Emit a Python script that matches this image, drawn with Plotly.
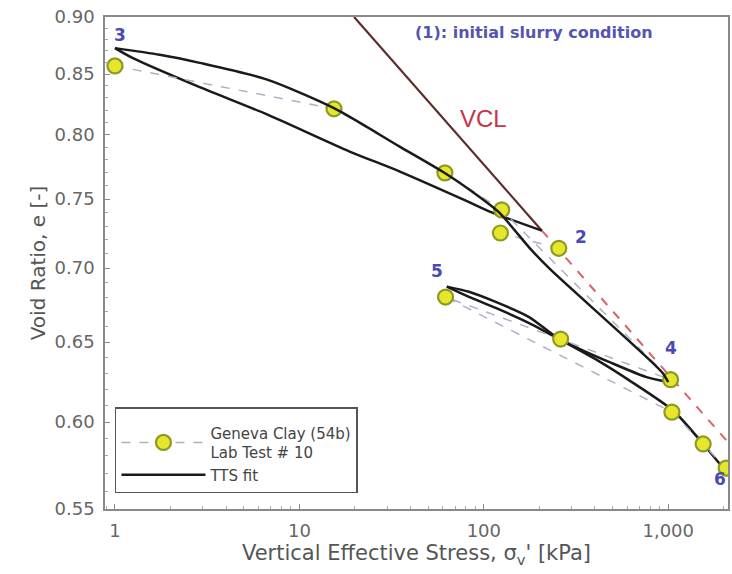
import math
import plotly.graph_objects as go

# ---------------- data ----------------
# lab test points, in test order (None = break in the connecting line)
test_stress = [255, 123, None, 1.0, 15.4, 61.5, 125, 1030, 261, 62, 1047, 1546, 2060]
test_e = [0.714, 0.725, None, 0.857, 0.821, 0.770, 0.742, 0.626, 0.652, 0.680, 0.606, 0.587, 0.573]

# virgin compression line (solid part) and its dashed extension
vcl_stress = [19.8, 206.5]
vcl_e = [0.900, 0.7267]
vcl_ext_stress = [206.5, 2150]
vcl_ext_e = [0.7267, 0.587]

# TTS fit: unloading 2 -> 3
unl1_stress = [206.5, 110.5, 79.9, 34.8, 18.6, 6.63, 2.88, 1.251, 1.0]
unl1_e = [0.7267, 0.7401, 0.7489, 0.7712, 0.7868, 0.8166, 0.8390, 0.8637, 0.8724]

# TTS fit: reloading 3 -> 4
rel1_stress = [1.0, 1.75, 2.88, 6.63, 15.4, 34.8, 61.7, 94.4, 121, 182, 234, 920, 1000]
rel1_e = [0.8724, 0.8666, 0.8596, 0.8455, 0.8215, 0.7907, 0.7697, 0.7518, 0.7401, 0.7125, 0.698, 0.631, 0.6245]

# TTS fit: unloading 4 -> 5
unl2_stress = [1000, 755, 492, 299, 239, 176, 116, 83, 63]
unl2_e = [0.6245, 0.6278, 0.6366, 0.6481, 0.6546, 0.6665, 0.6767, 0.6836, 0.6871]

# TTS fit: reloading 5 -> 6
rel2_stress = [63, 83, 116, 176, 261, 418, 609, 1069, 1546, 1950]
rel2_e = [0.6871, 0.6801, 0.6726, 0.6625, 0.6514, 0.6379, 0.6259, 0.6067, 0.587, 0.574]

x_tick_vals = [1, 10, 100, 1000]
x_tick_text = ["1", "10", "100", "1,000"]
y_tick_vals = [0.55, 0.60, 0.65, 0.70, 0.75, 0.80, 0.85, 0.90]
y_tick_text = ["0.55", "0.60", "0.65", "0.70", "0.75", "0.80", "0.85", "0.90"]
y_minor_vals = [round(0.55 + 0.01 * i, 2) for i in range(36)]

point_labels = ["3", "2", "5", "4", "6"]
point_label_stress = [1.06, 335, 55.6, 1038, 1911]
point_label_e = [0.884, 0.722, 0.698, 0.646, 0.567]

# ---------------- figure ----------------
fig = go.Figure()

BLACK = "#1a1a1a"
SPL = dict(shape="spline", smoothing=0.7)

fig.add_trace(go.Scatter(x=vcl_stress, y=vcl_e, mode="lines",
                         line=dict(color="#5e2c2c", width=2.2), showlegend=False))
fig.add_trace(go.Scatter(x=vcl_ext_stress, y=vcl_ext_e, mode="lines",
                         line=dict(color="#d9636b", width=2, dash="dash"), showlegend=False))

fig.add_trace(go.Scatter(x=unl1_stress, y=unl1_e, mode="lines",
                         line=dict(color=BLACK, width=2.5, **SPL), showlegend=False))
fig.add_trace(go.Scatter(x=unl2_stress, y=unl2_e, mode="lines",
                         line=dict(color=BLACK, width=2.5, **SPL), showlegend=False))
fig.add_trace(go.Scatter(x=rel2_stress, y=rel2_e, mode="lines",
                         line=dict(color=BLACK, width=2.5, **SPL), showlegend=False))

fig.add_trace(go.Scatter(
    x=test_stress, y=test_e, mode="lines+markers",
    name="Geneva Clay (54b)<br>Lab Test # 10",
    line=dict(color="#aeb0c8", width=1.5, dash="dash"),
    marker=dict(size=15, color="#e6e62e", line=dict(color="#8c9a22", width=2.2)),
    connectgaps=False,
))

fig.add_trace(go.Scatter(x=rel1_stress, y=rel1_e, mode="lines", name="TTS fit",
                         line=dict(color=BLACK, width=2.5, **SPL)))

annotations = []
for t, sx, ey in zip(point_labels, point_label_stress, point_label_e):
    annotations.append(dict(x=math.log10(sx), y=math.log10(ey), xref="x", yref="y",
                            text="<b>" + t + "</b>", showarrow=False,
                            font=dict(family="DejaVu Sans", size=17, color="#4a4ab4")))
annotations.append(dict(x=math.log10(187), y=math.log10(0.886), xref="x", yref="y",
                        text="<b>(1): initial slurry condition</b>", showarrow=False,
                        font=dict(family="DejaVu Sans", size=16, color="#5555b0")))
annotations.append(dict(x=math.log10(100), y=math.log10(0.813), xref="x", yref="y",
                        text="VCL", showarrow=False,
                        font=dict(family="Liberation Sans", size=24, color="#c8344a")))

axis_common = dict(
    showline=True, linecolor="#8a8a8a", linewidth=1.5, mirror=True,
    showgrid=False, zeroline=False,
    ticks="inside", ticklen=5, tickcolor="#8a8a8a",
    tickfont=dict(family="DejaVu Sans", size=18, color="#666666"),
)

fig.update_layout(
    width=732, height=574,
    margin=dict(l=105, r=2, t=17, b=65),
    paper_bgcolor="white", plot_bgcolor="white",
    font=dict(family="DejaVu Sans", color="#555555"),
    annotations=annotations,
    legend=dict(
        x=0.016, y=0.207, xanchor="left", yanchor="top",
        bordercolor="#555555", borderwidth=1.5, bgcolor="white",
        font=dict(family="DejaVu Sans", size=15, color="#444444"),
        title=dict(text=" ", font=dict(size=6)),
        itemwidth=84, tracegroupgap=20,
    ),
)

fig.update_xaxes(
    type="log", range=[-0.054, 3.324],
    tickvals=x_tick_vals, ticktext=x_tick_text,
    ticklabelstandoff=5,
    minor=dict(ticks="inside", ticklen=3, tickcolor="#aaaaaa", dtick="D1"),
    title=dict(text="Vertical Effective Stress, σ<sub>v</sub>' [kPa]",
               font=dict(family="DejaVu Sans", size=21, color="#555555"), standoff=5),
    **axis_common,
)
fig.update_yaxes(
    type="log", range=[math.log10(0.55), math.log10(0.90)],
    tickvals=y_tick_vals, ticktext=y_tick_text,
    ticklabelstandoff=5,
    minor=dict(ticks="inside", ticklen=3, tickcolor="#aaaaaa", tickvals=y_minor_vals),
    title=dict(text="Void Ratio, e [-]",
               font=dict(family="DejaVu Sans", size=20, color="#555555"), standoff=4),
    **axis_common,
)

fig.write_html("out.html")
